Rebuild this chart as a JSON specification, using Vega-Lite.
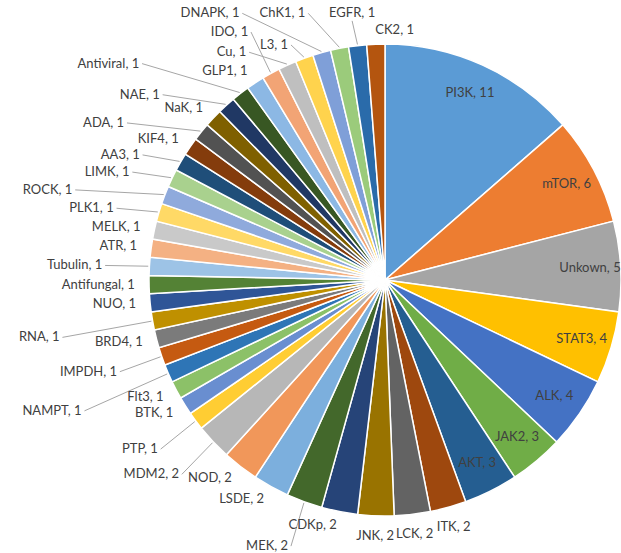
{
  "$schema": "https://vega.github.io/schema/vega-lite/v6.json",
  "width": 621,
  "height": 553,
  "autosize": "none",
  "padding": 0,
  "background": "white",
  "config": {"view": {"stroke": null}, "text": {"font": "Lato", "fontSize": 13, "color": "#404040"}},
  "data": {"values": [
    {"name": "PI3K", "value": 11}, {"name": "mTOR", "value": 6}, {"name": "Unkown", "value": 5},
    {"name": "STAT3", "value": 4}, {"name": "ALK", "value": 4}, {"name": "JAK2", "value": 3},
    {"name": "AKT", "value": 3}, {"name": "ITK", "value": 2}, {"name": "LCK", "value": 2},
    {"name": "JNK", "value": 2}, {"name": "CDKp", "value": 2}, {"name": "MEK", "value": 2},
    {"name": "LSDE", "value": 2}, {"name": "NOD", "value": 2}, {"name": "MDM2", "value": 2},
    {"name": "PTP", "value": 1}, {"name": "BTK", "value": 1}, {"name": "Flt3", "value": 1},
    {"name": "NAMPT", "value": 1}, {"name": "IMPDH", "value": 1}, {"name": "BRD4", "value": 1},
    {"name": "RNA", "value": 1}, {"name": "NUO", "value": 1}, {"name": "Antifungal", "value": 1},
    {"name": "Tubulin", "value": 1}, {"name": "ATR", "value": 1}, {"name": "MELK", "value": 1},
    {"name": "PLK1", "value": 1}, {"name": "ROCK", "value": 1}, {"name": "LIMK", "value": 1},
    {"name": "AA3", "value": 1}, {"name": "KIF4", "value": 1}, {"name": "ADA", "value": 1},
    {"name": "NaK", "value": 1}, {"name": "NAE", "value": 1}, {"name": "Antiviral", "value": 1},
    {"name": "GLP1", "value": 1}, {"name": "IDO", "value": 1}, {"name": "Cu", "value": 1},
    {"name": "L3", "value": 1}, {"name": "DNAPK", "value": 1}, {"name": "ChK1", "value": 1},
    {"name": "EGFR", "value": 1}, {"name": "CK2", "value": 1}
  ]},
  "transform": [
    {"window": [{"op": "row_number", "as": "idx"}]},
    {"joinaggregate": [{"op": "sum", "field": "value", "as": "total"}]},
    {"stack": "value", "groupby": [], "sort": [{"field": "idx", "order": "ascending"}], "as": ["v0", "v1"]},
    {"calculate": "2*PI*datum.v0/datum.total", "as": "a0"},
    {"calculate": "2*PI*datum.v1/datum.total", "as": "a1"},
    {"calculate": "(datum.a0+datum.a1)/2", "as": "am"},
    {"calculate": "datum.am*180/PI", "as": "deg"},
    {"calculate": "datum.name + ', ' + datum.value", "as": "label"},
    {"calculate": "datum.value >= 3 ? 'in' : indexof(['ITK','LCK','JNK'], datum.name) >= 0 ? 'Z' : indexof(['MEK','MDM2','PTP','IMPDH','IDO'], datum.name) >= 0 ? 'B' : indexof(['Tubulin','PLK1','LIMK','AA3','L3'], datum.name) >= 0 ? 'C' : indexof(['ROCK','Cu','NAE','ADA'], datum.name) >= 0 ? 'D' : indexof(['NAMPT','RNA'], datum.name) >= 0 ? 'E' : datum.name == 'Antiviral' ? 'F' : datum.name == 'EGFR' ? 'T1' : datum.name == 'ChK1' ? 'T2' : datum.name == 'DNAPK' ? 'T3' : 'A'", "as": "ring"},
    {"calculate": "datum.ring == 'in' ? 0.87 : datum.ring == 'Z' ? 1.085 : datum.ring == 'A' ? 1.06 : datum.ring == 'B' ? 1.2 : datum.ring == 'C' ? 1.2 : datum.ring == 'D' ? 1.42 : datum.ring == 'E' ? 1.4 : datum.ring == 'F' ? 1.7 : datum.ring == 'T1' ? 1.2 : datum.ring == 'T2' ? 1.75 : 2.3", "as": "rx"},
    {"calculate": "datum.ring == 'in' ? 0.87 : datum.ring == 'Z' ? 1.085 : datum.ring == 'B' ? 1.2 : datum.ring == 'E' ? 1.4 : datum.ring == 'F' ? 1.16 : 1.06", "as": "ry"},
    {"calculate": "sin(datum.am)*datum.rx", "as": "lx"},
    {"calculate": "indexof(['T1','T2','T3'], datum.ring) >= 0 ? 1.13 : cos(datum.am)*datum.ry", "as": "ly"},
    {"calculate": "indexof(['in','Z','T1'], datum.ring) >= 0 ? 'center' : (datum.deg < 150 || datum.deg > 356) ? 'left' : 'right'", "as": "side"},
    {"calculate": "sin(datum.am)*1.005", "as": "sx"},
    {"calculate": "cos(datum.am)*1.005", "as": "sy"},
    {"calculate": "datum.side == 'right' ? datum.lx + 0.012 : datum.side == 'left' ? datum.lx - 0.012 : datum.lx", "as": "ex"},
    {"calculate": "datum.side == 'center' ? datum.ly - 0.032 : datum.ly", "as": "ey"}
  ],
  "layer": [
    {
      "mark": {"type": "arc", "outerRadius": 236, "stroke": "white", "strokeWidth": 1.5},
      "encoding": {
        "x": {"datum": 0, "type": "quantitative", "scale": {"domain": [-1.63136, 1.0], "nice": false, "zero": false}, "axis": null},
        "y": {"datum": 0, "type": "quantitative", "scale": {"domain": [-1.15678, 1.18644], "nice": false, "zero": false}, "axis": null},
        "theta": {"field": "a0", "type": "quantitative", "scale": {"domain": [0, 6.283185307179586], "range": [0, 6.283185307179586]}},
        "theta2": {"field": "a1"},
        "color": {"field": "name", "type": "nominal", "legend": null, "scale": {
          "domain": ["PI3K","mTOR","Unkown","STAT3","ALK","JAK2","AKT","ITK","LCK","JNK","CDKp","MEK","LSDE","NOD","MDM2","PTP","BTK","Flt3","NAMPT","IMPDH","BRD4","RNA","NUO","Antifungal","Tubulin","ATR","MELK","PLK1","ROCK","LIMK","AA3","KIF4","ADA","NaK","NAE","Antiviral","GLP1","IDO","Cu","L3","DNAPK","ChK1","EGFR","CK2"],
          "range": ["#5B9BD5","#ED7D31","#A5A5A5","#FFC000","#4472C4","#70AD47","#255E91","#9E480E","#636363","#997300","#264478","#43682B","#7CAFDD","#F1975A","#B7B7B7","#FFCD33","#698ED0","#8CC168","#2E75B6","#C55A11","#7B7B7B","#BF9000","#2F5597","#548235","#9DC3E6","#F4B183","#C9C9C9","#FFD966","#8FAADC","#A9D18E","#1F4E79","#843C0C","#525252","#7F6000","#203864","#385723","#8CB8E4","#F2A475","#BFBFBF","#FFD34D","#7F9FD8","#9BCB7B","#2A6BAA","#B4550F"]
        }}
      }
    },
    {
      "transform": [{"filter": "indexof(['B','C','D','E','F','T1','T2','T3'], datum.ring) >= 0"}],
      "mark": {"type": "rule", "color": "#A6A6A6", "strokeWidth": 1},
      "encoding": {
        "x": {"field": "sx", "type": "quantitative", "scale": {"domain": [-1.63136, 1.0], "nice": false, "zero": false}, "axis": null},
        "y": {"field": "sy", "type": "quantitative", "scale": {"domain": [-1.15678, 1.18644], "nice": false, "zero": false}, "axis": null},
        "x2": {"field": "ex"},
        "y2": {"field": "ey"}
      }
    },
    {
      "transform": [{"filter": "datum.side == 'center'"}],
      "mark": {"type": "text", "align": "center", "baseline": "middle"},
      "encoding": {
        "x": {"field": "lx", "type": "quantitative", "scale": {"domain": [-1.63136, 1.0], "nice": false, "zero": false}, "axis": null},
        "y": {"field": "ly", "type": "quantitative", "scale": {"domain": [-1.15678, 1.18644], "nice": false, "zero": false}, "axis": null},
        "text": {"field": "label"}
      }
    },
    {
      "transform": [{"filter": "datum.side == 'left'"}],
      "mark": {"type": "text", "align": "left", "baseline": "middle"},
      "encoding": {
        "x": {"field": "lx", "type": "quantitative", "scale": {"domain": [-1.63136, 1.0], "nice": false, "zero": false}, "axis": null},
        "y": {"field": "ly", "type": "quantitative", "scale": {"domain": [-1.15678, 1.18644], "nice": false, "zero": false}, "axis": null},
        "text": {"field": "label"}
      }
    },
    {
      "transform": [{"filter": "datum.side == 'right'"}],
      "mark": {"type": "text", "align": "right", "baseline": "middle"},
      "encoding": {
        "x": {"field": "lx", "type": "quantitative", "scale": {"domain": [-1.63136, 1.0], "nice": false, "zero": false}, "axis": null},
        "y": {"field": "ly", "type": "quantitative", "scale": {"domain": [-1.15678, 1.18644], "nice": false, "zero": false}, "axis": null},
        "text": {"field": "label"}
      }
    }
  ]
}
